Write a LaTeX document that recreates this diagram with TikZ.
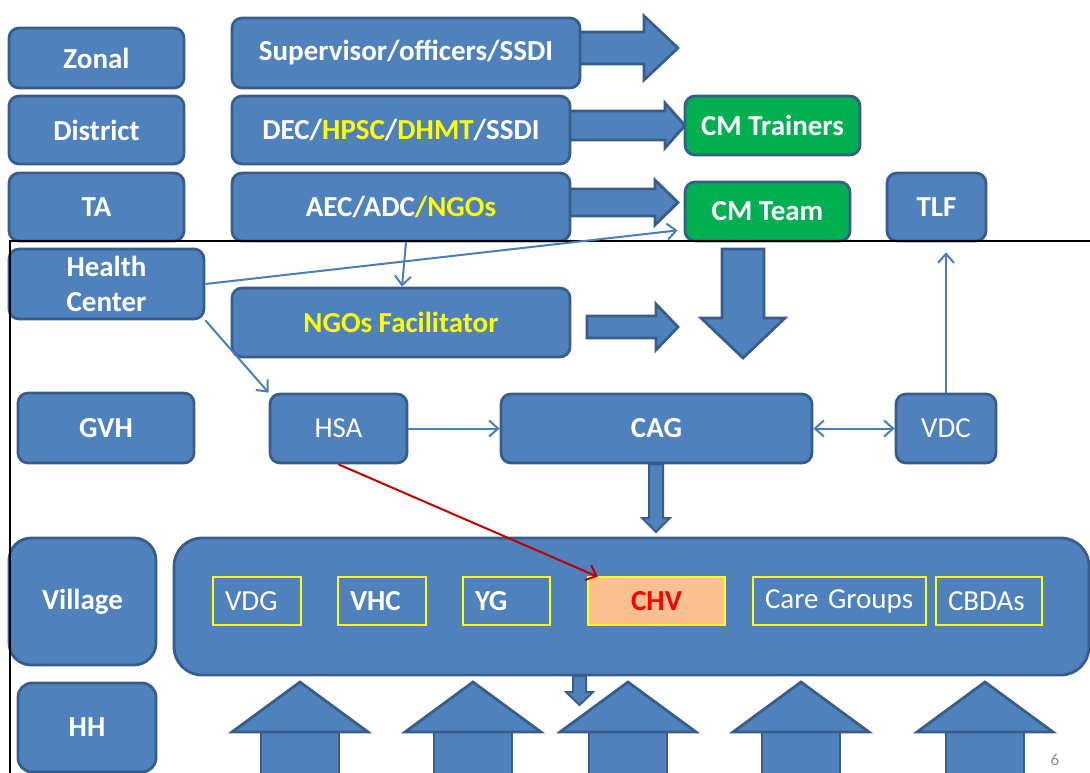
\documentclass[tikz,border=0pt]{standalone}
\usepackage{fontspec}
\setmainfont{Carlito}
\usetikzlibrary{arrows.meta,calc}
\definecolor{blu}{HTML}{4F81BD}
\definecolor{bdr}{HTML}{385D8A}
\definecolor{grn}{HTML}{00B050}
\definecolor{lnk}{HTML}{4A7EBB}
\definecolor{peach}{HTML}{FAC090}
\definecolor{dred}{HTML}{C00000}
\definecolor{ylw}{HTML}{FFFF00}
\definecolor{pgnum}{HTML}{8B8B8B}
\newcommand\fsz{\fontsize{29}{35}\selectfont}
\begin{document}
\begin{tikzpicture}[x=1pt,y=-1pt,
 box/.style={draw=bdr, fill=blu, line width=2.75pt, rounded corners=10pt, text=white, font=\fsz\bfseries, align=center, inner sep=0pt},
 gbox/.style={box, fill=grn},
 regtext/.style={font=\fsz},
 inbox/.style={draw=ylw, line width=2.5pt, text=white, font=\fsz, inner xsep=12pt, inner ysep=0pt, minimum height=48, align=left},
 lnkarrow/.style={draw=lnk, line width=2pt, -{Straight Barb[length=9pt,width=16pt,line width=2pt]}},
 blk/.style={draw=bdr, fill=blu, line width=2.75pt, line join=miter},
 thinblk/.style={draw=bdr, fill=blu, line width=2pt, line join=miter},
]
\useasboundingbox (0,0) rectangle (1090,773);
\clip (0,0) rectangle (1090,773);

% block arrows (behind boxes)
\draw[blk] (575,32) -- (644,32) -- (644,16) -- (678,48) -- (644,80) -- (644,64) -- (575,64) -- cycle;
\draw[blk] (565,111) -- (665,111) -- (665,103) -- (685,125.5) -- (665,148) -- (665,140) -- (565,140) -- cycle;
\draw[blk] (565,189) -- (655,189) -- (655,180) -- (678,202.5) -- (655,225) -- (655,216) -- (565,216) -- cycle;
\draw[blk] (587,316) -- (656,316) -- (656,304) -- (678,327) -- (656,350) -- (656,338) -- (587,338) -- cycle;
\draw[blk] (722,249) -- (764,249) -- (764,318) -- (785,318) -- (743,358) -- (701,318) -- (722,318) -- cycle;

% left column
\node[box, minimum width=175, minimum height=60] (zonal) at (96.5,58) {Zonal};
\node[box, minimum width=175, minimum height=68] (district) at (96.5,130) {District};
\node[box, minimum width=175, minimum height=68] (ta) at (96.5,207) {TA};
\node[box, minimum width=195, minimum height=70] (hc) at (106.5,284) {Health\\Center};
\node[box, minimum width=176, minimum height=70] (gvh) at (106,428) {GVH};
\node[box, rounded corners=22pt, minimum width=147, minimum height=127] (village) at (82.5,601.5) {Village};
\node[box, rounded corners=14pt, minimum width=138, minimum height=89] (hh) at (87,727.5) {HH};

% second column
\node[box, minimum width=348, minimum height=70] (sup) at (406,53) {Supervisor/officers/SSDI};
\node[box, minimum width=338, minimum height=68] (dec) at (401,130) {DEC/\textcolor{ylw}{HPSC}/\textcolor{ylw}{DHMT}/SSDI};
\node[box, minimum width=338, minimum height=68] (aec) at (401,207) {AEC/ADC\textcolor{ylw}{/NGOs}};
\node[box, minimum width=338, minimum height=69, text=ylw] (ngo) at (401,322.5) {NGOs Facilitator};

\node[gbox, minimum width=175, minimum height=59] (cmtr) at (772.5,125.5) {CM Trainers};
\node[gbox, minimum width=165, minimum height=59] (cmteam) at (767.5,211.5) {CM Team};
\node[box, minimum width=99, minimum height=68] (tlf) at (936.5,207) {TLF};

\node[box, regtext, minimum width=137, minimum height=69] (hsa) at (338.5,428.5) {HSA};
\node[box, minimum width=311, minimum height=69] (cag) at (656.5,428.5) {CAG};
\node[box, regtext, minimum width=100, minimum height=69] (vdc) at (946,428.5) {VDC};

% CAG down arrow
\draw[thinblk] (649,464) -- (663,464) -- (663,518) -- (670,518) -- (656,532) -- (642,518) -- (649,518) -- cycle;

% village box
\node[box, rounded corners=28pt, minimum width=915, minimum height=137] (vbox) at (631.5,606.5) {};
\node[inbox, text width=64] (vdg) at (257,601) {VDG};
\node[inbox, text width=64, font=\fsz\bfseries] (vhc) at (382,601) {VHC};
\node[inbox, text width=63, font=\fsz\bfseries] (yg) at (506.5,601) {YG};
\node[inbox, fill=peach, text=red, font=\fsz\bfseries, align=center, text width=113] (chv) at (656.5,601) {CHV};
\node[inbox, text width=149] (care) at (839.5,601) {Care Groups};
\node[inbox, text width=82] (cbda) at (989,601) {CBDAs};

% faint arrow inside CHV
\draw[draw=lnk, opacity=0.35, line width=1.5pt, -{Straight Barb[length=6pt,width=10pt]}] (chv.south) -- ++(0,22);

% bottom up arrows
\foreach \c in {300,473,628,801,985}{
  \draw[blk] (\c-39,732) rectangle (\c+39,790);
  \draw[blk] (\c,682) -- (\c+68,732) -- (\c-68,732) -- cycle;
}
% small arrow from village box
\draw[thinblk] (573,676) -- (586,676) -- (586,692) -- (593,692) -- (579.5,705) -- (566,692) -- (573,692) -- cycle;

% frame lines
\draw[black, line width=2pt] (10,773) -- (10,241) -- (1090,241);

% connectors
\draw[lnkarrow] ($(aec.south)+(5,0)$) -- ($(ngo.north)+(1,0)$);
\draw[lnkarrow] (hc.east) -- ($(cmteam.south west)+(-6,-12)$);
\draw[lnkarrow] (hc.south east) -- (hsa.north west);
\draw[lnkarrow] (hsa.east) -- (cag.west);
\draw[lnkarrow, {Straight Barb[length=9pt,width=16pt,line width=2pt]}-{Straight Barb[length=9pt,width=16pt,line width=2pt]}] (cag.east) -- (vdc.west);
\draw[lnkarrow] (vdc.north) -- ($(vdc.north |- tlf.south)+(0,10)$);
\draw[draw=dred, line width=2pt, -{Straight Barb[length=9pt,width=16pt,line width=2pt]}] (hsa.south) -- ($(chv.north west)+(11,1)$);

% page number
\node[text=pgnum, font=\fontsize{17}{20}\selectfont] (pg) at (1055,760) {6};
\end{tikzpicture}
\end{document}
